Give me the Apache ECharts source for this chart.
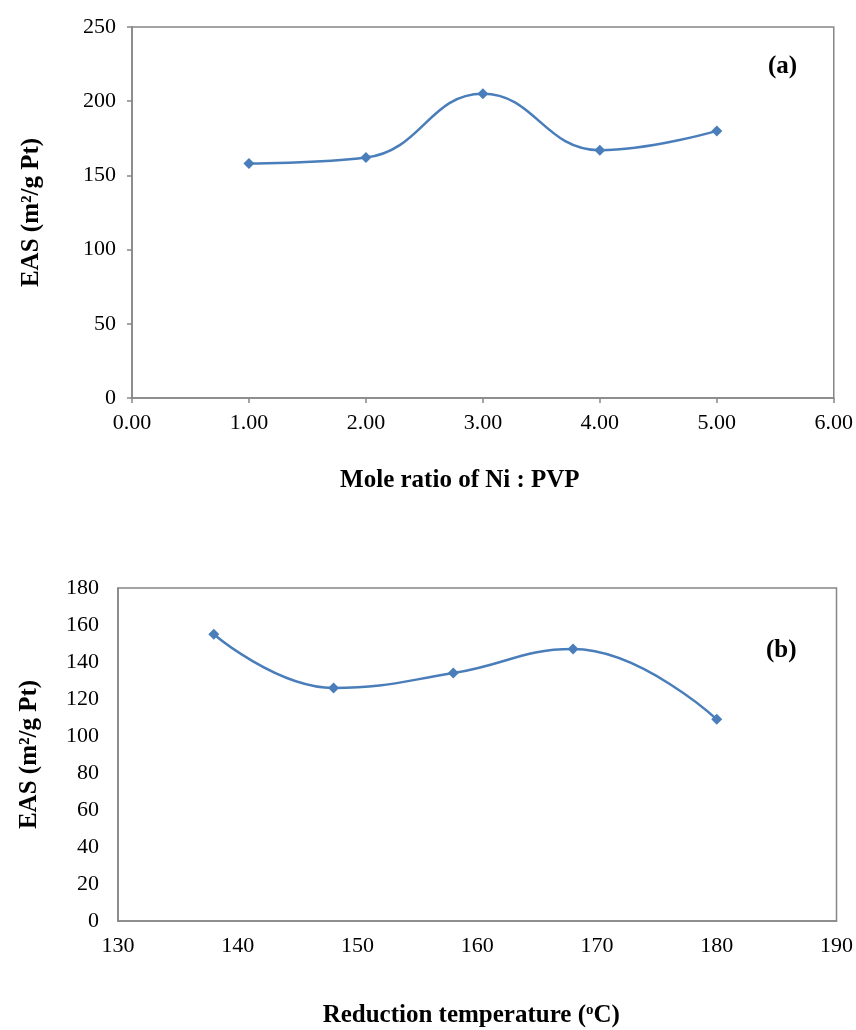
<!DOCTYPE html>
<html>
<head>
<meta charset="utf-8">
<script src="https://cdn.jsdelivr.net/npm/echarts@6/dist/echarts.min.js"></script>
<style>
  html, body { margin: 0; padding: 0; background: #fff; }
  #chart { width: 856px; height: 1030px; }
</style>
</head>
<body>
<div id="chart"></div>
<script>
// Panel (a): EAS versus Ni : PVP mole ratio
const ratioValues = [1, 2, 3, 4, 5];
const easByRatio = [158, 162, 205, 167, 180];

// Panel (b): EAS versus reduction temperature
const temperatureValues = [138, 148, 158, 168, 180];
const easByTemperature = [155, 126, 134, 147, 109];

const SERIF = '"Liberation Serif", "Times New Roman", serif';
const AXIS_GREY = '#868686';
const LINE_BLUE = '#4A7EBB';

const pairs = (xs, ys) => xs.map((x, i) => [x, ys[i]]);

const tickLabel = { color: '#000', fontFamily: SERIF, fontSize: 22 };
const titleBase = { color: '#000', fontFamily: SERIF, fontSize: 25, fontWeight: 'bold',
  rich: { sup: { fontFamily: SERIF, fontSize: 15, fontWeight: 'bold', padding: [0, 0, 11, 0] } } };
const titleStyle = extra => Object.assign({}, titleBase, extra || {});

const chart = echarts.init(document.getElementById('chart'), null, { renderer: 'canvas' });

chart.setOption({
  animation: false,
  backgroundColor: '#fff',
  grid: [
    { left: 132, top: 27, right: 22, height: 371, show: true, borderColor: AXIS_GREY, borderWidth: 1.5, backgroundColor: 'transparent' },
    { left: 118, top: 588, right: 19, height: 333, show: true, borderColor: AXIS_GREY, borderWidth: 1.5, backgroundColor: 'transparent' }
  ],
  xAxis: [
    {
      gridIndex: 0, type: 'value', min: 0, max: 6, interval: 1,
      name: 'Mole ratio of Ni : PVP', nameLocation: 'middle', nameGap: 70,
      nameTextStyle: titleStyle({ padding: [0, 46, 0, 0] }),
      axisLine: { show: true, onZero: false, lineStyle: { color: AXIS_GREY, width: 1.5 } },
      axisTick: { show: true, inside: false, length: 5, lineStyle: { color: AXIS_GREY, width: 1.5 } },
      axisLabel: Object.assign({ margin: 14, formatter: v => v.toFixed(2) }, tickLabel),
      splitLine: { show: false }
    },
    {
      gridIndex: 1, type: 'value', min: 130, max: 190, interval: 10,
      name: 'Reduction temperature ({sup|o}C)', nameLocation: 'middle', nameGap: 82,
      nameTextStyle: titleStyle({ padding: [0, 12, 0, 0] }),
      axisLine: { show: true, onZero: false, lineStyle: { color: AXIS_GREY, width: 1.5 } },
      axisTick: { show: false },
      axisLabel: Object.assign({ margin: 14 }, tickLabel),
      splitLine: { show: false }
    }
  ],
  yAxis: [
    {
      gridIndex: 0, type: 'value', min: 0, max: 250, interval: 50,
      name: 'EAS (m²/g Pt)', nameLocation: 'middle', nameGap: 88, nameRotate: 90,
      nameTextStyle: titleStyle(),
      axisLine: { show: true, lineStyle: { color: AXIS_GREY, width: 1.5 } },
      axisTick: { show: true, inside: false, length: 5, lineStyle: { color: AXIS_GREY, width: 1.5 } },
      axisLabel: Object.assign({ margin: 16 }, tickLabel),
      splitLine: { show: false }
    },
    {
      gridIndex: 1, type: 'value', min: 0, max: 180, interval: 20,
      name: 'EAS (m²/g Pt)', nameLocation: 'middle', nameGap: 76, nameRotate: 90,
      nameTextStyle: titleStyle(),
      axisLine: { show: true, lineStyle: { color: AXIS_GREY, width: 1.5 } },
      axisTick: { show: false },
      axisLabel: Object.assign({ margin: 19 }, tickLabel),
      splitLine: { show: false }
    }
  ],
  series: [
    {
      type: 'line', xAxisIndex: 0, yAxisIndex: 0,
      data: pairs(ratioValues, easByRatio),
      smooth: 0.45, symbol: 'diamond', symbolSize: 11,
      lineStyle: { color: LINE_BLUE, width: 2.5 },
      itemStyle: { color: LINE_BLUE }
    },
    {
      type: 'line', xAxisIndex: 1, yAxisIndex: 1,
      data: pairs(temperatureValues, easByTemperature),
      smooth: 0.45, symbol: 'diamond', symbolSize: 11,
      lineStyle: { color: LINE_BLUE, width: 2.5 },
      itemStyle: { color: LINE_BLUE }
    }
  ],
  graphic: [
    { type: 'text', left: 768, top: 54, style: { text: '(a)', fontFamily: SERIF, fontSize: 25, fontWeight: 'bold', fill: '#000' } },
    { type: 'text', left: 766, top: 638, style: { text: '(b)', fontFamily: SERIF, fontSize: 25, fontWeight: 'bold', fill: '#000' } }
  ]
});
</script>
</body>
</html>
